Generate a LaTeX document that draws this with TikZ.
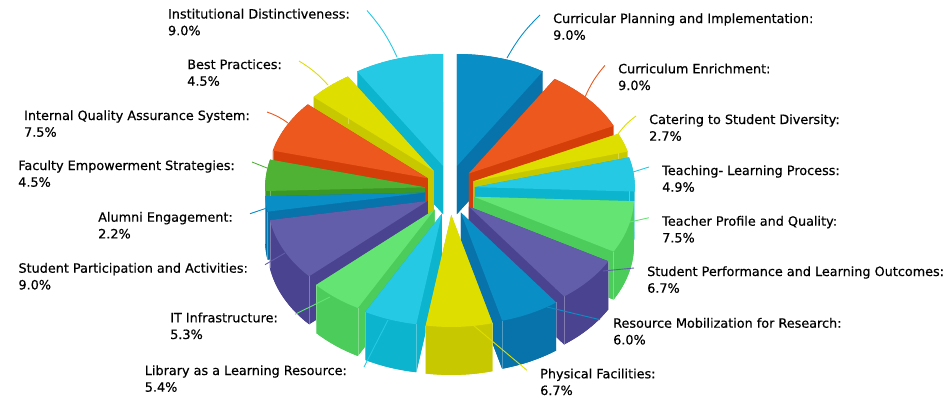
\documentclass[tikz,border=0pt]{standalone}
\usepackage{fontspec}
\setmainfont{DejaVu Sans}
\newfontfamily\lblfont{DejaVu Sans}[FakeBold=0.5]
\usetikzlibrary{positioning}

\definecolor{cBlue}{HTML}{0A8EC6}
\definecolor{cBlueD}{HTML}{0873AA}
\definecolor{cOra}{HTML}{EC581E}
\definecolor{cOraD}{HTML}{D43E08}
\definecolor{cYel}{HTML}{DEDE00}
\definecolor{cYelD}{HTML}{C8C800}
\definecolor{cCyan}{HTML}{26C9E4}
\definecolor{cCyanD}{HTML}{0CB4CE}
\definecolor{cLime}{HTML}{64E473}
\definecolor{cLimeD}{HTML}{4CCC5A}
\definecolor{cPur}{HTML}{635EAA}
\definecolor{cPurD}{HTML}{4A4490}
\definecolor{cGrn}{HTML}{50B234}
\definecolor{cGrnD}{HTML}{3C9824}

\begin{document}
\begin{tikzpicture}[x=1pt,y=1pt,
        lbl/.style={font=\lblfont\fontsize{12.8}{16.7}\selectfont,inner sep=0pt,align=left},
        lead/.style={line width=0.9pt}]
        \useasboundingbox (0,0) rectangle (951,-400);

        % slices, back to front
        \begin{scope}[shift={(450,-190)}]
        \foreach \a/\b/\topc/\sidec in {0/32.43/cBlue/cBlueD, 327.57/360/cCyan/cCyanD,
                311.35/327.57/cYel/cYelD, 32.43/64.86/cOra/cOraD, 284.32/311.35/cOra/cOraD,
                64.86/74.59/cYel/cYelD, 74.59/92.25/cCyan/cCyanD, 268.11/284.32/cGrn/cGrnD,
                260.18/268.11/cBlue/cBlueD, 92.25/119.28/cLime/cLimeD, 227.75/260.18/cPur/cPurD,
                119.28/143.42/cPur/cPurD, 208.65/227.75/cLime/cLimeD, 143.42/165.05/cBlue/cBlueD,
                189.19/208.65/cCyan/cCyanD, 165.05/189.19/cYel/cYelD}{
            \pgfmathsetmacro{\m}{(\a+\b)/2}
            \begin{scope}[shift={({25*sin(\m)},{25*cos(\m)})}]
                \fill[fill=\sidec] (0,-48) -- ({160*sin(\a)},{112*cos(\a)-48})
                    arc[start angle={90-\a},end angle={90-\b},x radius=160,y radius=112] -- cycle;
                \fill[fill=\sidec] (0,0) -- (0,-48) -- ({160*sin(\a)},{112*cos(\a)-48}) -- ({160*sin(\a)},{112*cos(\a)}) -- cycle;
                \fill[fill=\sidec] (0,0) -- (0,-48) -- ({160*sin(\b)},{112*cos(\b)-48}) -- ({160*sin(\b)},{112*cos(\b)}) -- cycle;
                \fill[fill=\sidec] ({160*sin(\a)},{112*cos(\a)})
                    arc[start angle={90-\a},end angle={90-\b},x radius=160,y radius=112]
                    -- ({160*sin(\b)},{112*cos(\b)-48})
                    arc[start angle={90-\b},end angle={90-\a},x radius=160,y radius=112] -- cycle;
                \draw[white,opacity=0.3,line width=0.6pt] ({160*sin(\a)},{112*cos(\a)}) -- ++(0,-48)
                    ({160*sin(\b)},{112*cos(\b)}) -- ++(0,-48);
                \fill[fill=\topc] (0,0) -- ({160*sin(\a)},{112*cos(\a)})
                    arc[start angle={90-\a},end angle={90-\b},x radius=160,y radius=112] -- cycle;
            \end{scope}
        }
        \end{scope}

        %############################################

        \node[lbl,anchor=base west] (tCP) at (553,-39.7) {Curricular Planning and Implementation:\\9.0\%};
        \node[lbl,anchor=base west] (tCE) at (618,-90) {Curriculum Enrichment:\\9.0\%};
        \node[lbl,anchor=base west] (tCSD) at (649,-140.7) {Catering to Student Diversity:\\2.7\%};
        \node[lbl,anchor=base west] (tTLP) at (662,-191.7) {Teaching- Learning Process:\\4.9\%};
        \node[lbl,anchor=base west] (tTPQ) at (662,-242.4) {Teacher Profile and Quality:\\7.5\%};
        \node[lbl,anchor=base west] (tSPLO) at (647,-292.7) {Student Performance and Learning Outcomes:\\6.7\%};
        \node[lbl,anchor=base west] (tRMR) at (613,-344.4) {Resource Mobilization for Research:\\6.0\%};
        \node[lbl,anchor=base west] (tPF) at (540,-395) {Physical Facilities:\\6.7\%};

        \node[lbl,anchor=base east] (tID) at (350,-35.2) {Institutional Distinctiveness:\\9.0\%};
        \node[lbl,anchor=base east] (tBP) at (282,-85.7) {Best Practices:\\4.5\%};
        \node[lbl,anchor=base east] (tIQAS) at (250,-136.7) {Internal Quality Assurance System:\\7.5\%};
        \node[lbl,anchor=base east] (tFES) at (235,-186.7) {Faculty Empowerment Strategies:\\4.5\%};
        \node[lbl,anchor=base east] (tAE) at (233,-238.4) {Alumni Engagement:\\2.2\%};
        \node[lbl,anchor=base east] (tSPA) at (248,-289.4) {Student Participation and Activities:\\9.0\%};
        \node[lbl,anchor=base east] (tIT) at (278,-339) {IT Infrastructure:\\5.3\%};
        \node[lbl,anchor=base east] (tLLR) at (347,-391.7) {Library as a Learning Resource:\\5.4\%};

        \foreach \n in {CP,CE,CSD,TLP,TPQ,SPLO,RMR,PF}
            \coordinate (e\n) at ([shift={(-13,24.7)}]t\n.base west);
        \foreach \n in {ID,BP,IQAS,FES,AE,SPA,IT,LLR}
            \coordinate (e\n) at ([shift={(17,24.7)}]t\n.base east);

        \coordinate (sCP) at (507,-58);
        \coordinate (sCE) at (585,-97);
        \coordinate (sCSD) at (618,-134);
        \coordinate (sTLP) at (633,-172);
        \coordinate (sTPQ) at (630,-222);
        \coordinate (sSPLO) at (603,-271);
        \coordinate (sRMR) at (547,-307);
        \coordinate (sPF) at (473,-325);
        \coordinate (sLLR) at (388,-320);
        \coordinate (sIT) at (330,-297);
        \coordinate (sSPA) at (285,-253);
        \coordinate (sAE) at (267,-208);
        \coordinate (sFES) at (267,-168);
        \coordinate (sIQAS) at (288,-123);
        \coordinate (sBP) at (328,-85);
        \coordinate (sID) at (397,-57);

        \draw[lead,cBlue] (sCP) to[bend left=8] (eCP);
        \draw[lead,cOra] (sCE) to[bend left=8] (eCE);
        \draw[lead,cYel] (sCSD) to[bend left=8] (eCSD);
        \draw[lead,cCyan] (sTLP) -- (eTLP);
        \draw[lead,cLime] (sTPQ) -- (eTPQ);
        \draw[lead,cPur] (sSPLO) -- (eSPLO);
        \draw[lead,cBlue] (sRMR) -- (eRMR);
        \draw[lead,cYel] (sPF) -- (ePF);
        \draw[lead,cCyan] (sLLR) -- (eLLR);
        \draw[lead,cLime] (sIT) -- (eIT);
        \draw[lead,cPur] (sSPA) -- (eSPA);
        \draw[lead,cBlue] (sAE) -- (eAE);
        \draw[lead,cGrn] (sFES) -- (eFES);
        \draw[lead,cOra] (sIQAS) to[bend right=8] (eIQAS);
        \draw[lead,cYel] (sBP) to[bend right=8] (eBP);
        \draw[lead,cCyan] (sID) to[bend right=8] (eID);
\end{tikzpicture}
\end{document}
